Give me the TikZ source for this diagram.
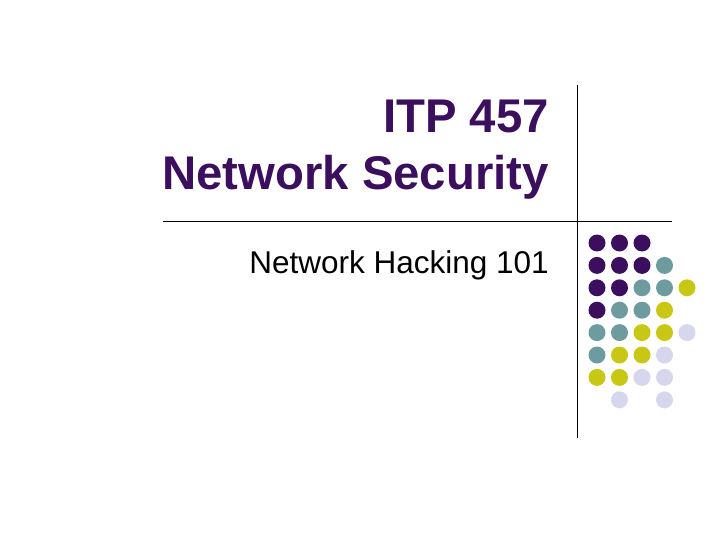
\documentclass[tikz,border=0pt]{standalone}
\usepackage{fontspec}
\setmainfont{Liberation Sans}
\definecolor{pur}{HTML}{3C0F5E}
\definecolor{tea}{HTML}{6E9C9E}
\definecolor{yel}{HTML}{C8C814}
\definecolor{lav}{HTML}{D6D6EC}
\begin{document}
\begin{tikzpicture}[x=1pt,y=-1pt,dot/.style={circle,inner sep=0pt,minimum size=17pt},
 ttl/.style={anchor=base east,text=pur,font=\bfseries\fontsize{47.3}{56}\selectfont,inner sep=0pt}]
\useasboundingbox[fill=white] (0,0) rectangle (720,540);
\draw[line width=0.8pt] (577,85) -- (577,438);
\draw[line width=0.8pt] (163,221) -- (672,221);
\node[ttl] (title) at (549,133) {ITP 457};
\node[ttl] (title2) at (549,190) {Network Security};
\node[anchor=base east,font=\fontsize{31.5}{38}\selectfont,inner sep=0pt] (sub) at (549,273) {Network Hacking 101};
\foreach \c/\r/\col in {1/1/pur,2/1/pur,3/1/pur,
 1/2/pur,2/2/pur,3/2/pur,4/2/tea,
 1/3/pur,2/3/pur,3/3/tea,4/3/tea,5/3/yel,
 1/4/pur,2/4/tea,3/4/tea,4/4/yel,
 1/5/tea,2/5/tea,3/5/yel,4/5/yel,5/5/lav,
 1/6/tea,2/6/yel,3/6/yel,4/6/lav,
 1/7/yel,2/7/yel,3/7/lav,4/7/lav,
 2/8/lav,4/8/lav}
 \node[dot,fill=\col] (d\c\r) at ({597+(\c-1)*22.5},{243+(\r-1)*22.4}) {};
\end{tikzpicture}
\end{document}
